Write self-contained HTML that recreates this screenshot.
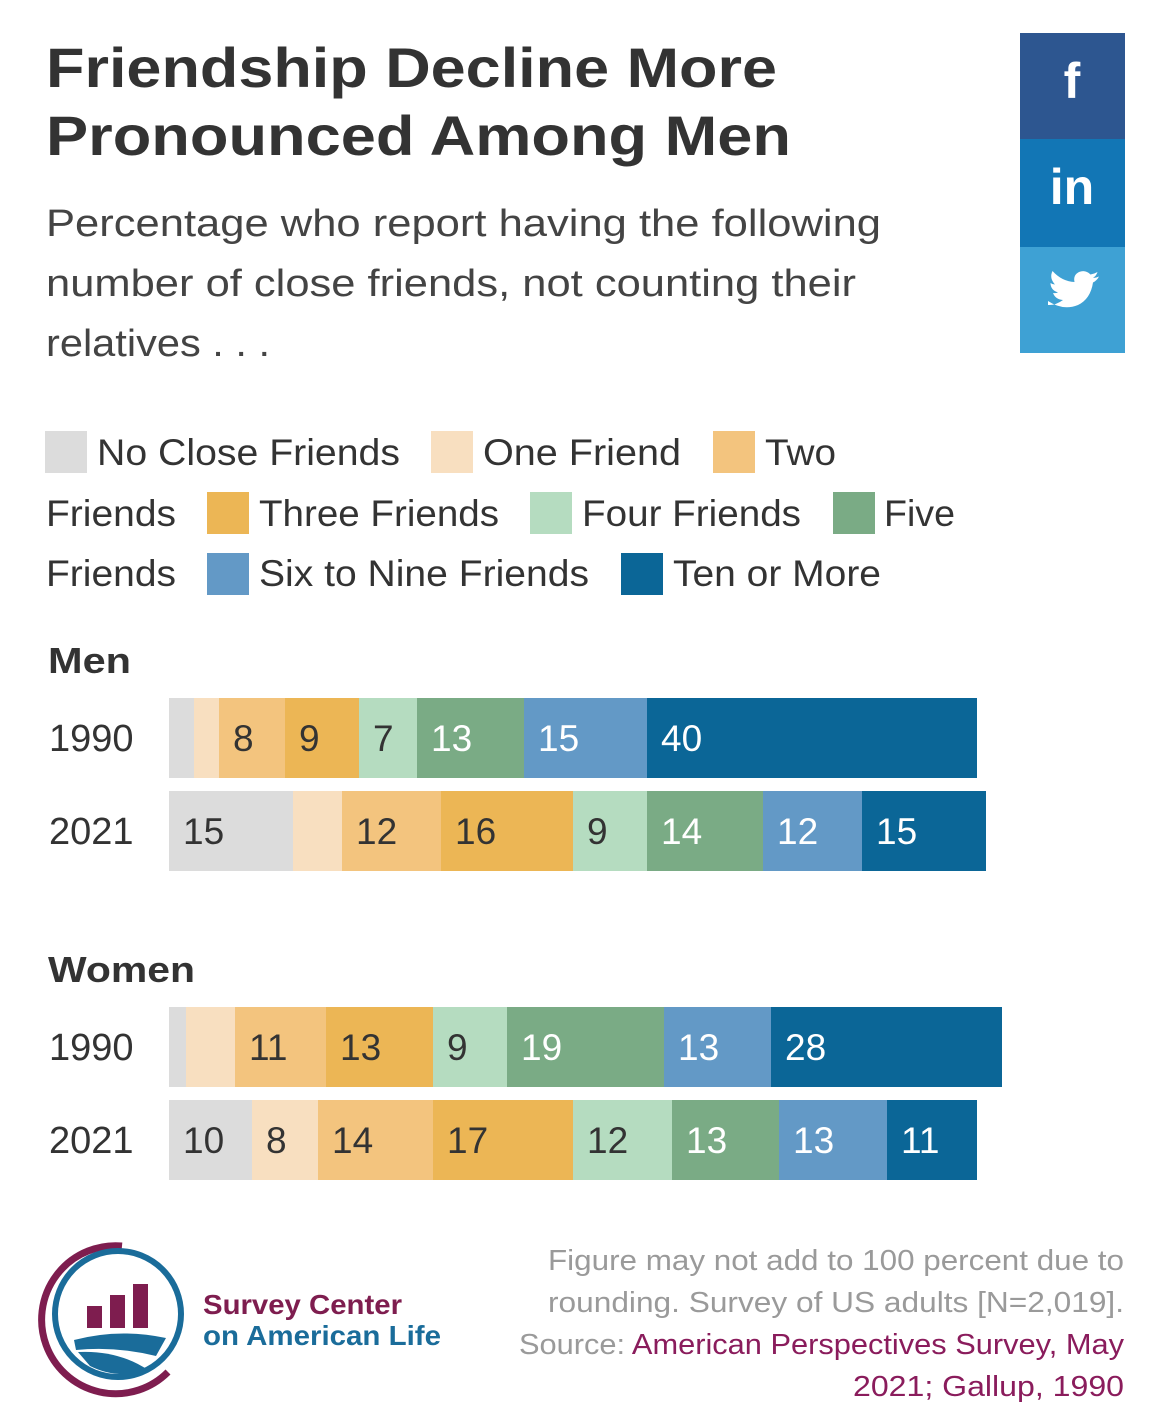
<!DOCTYPE html>
<html><head><meta charset="utf-8"><style>body{margin:0;background:#fff}svg{display:block}</style></head><body>
<svg width="1170" height="1422" xmlns="http://www.w3.org/2000/svg" font-family="Liberation Sans, sans-serif">
<rect width="1170" height="1422" fill="#fff"/>
<g fill="#333" font-weight="bold" font-size="56" lengthAdjust="spacingAndGlyphs">
<text x="46" y="87" textLength="731" lengthAdjust="spacingAndGlyphs">Friendship Decline More</text>
<text x="46" y="155" textLength="745" lengthAdjust="spacingAndGlyphs">Pronounced Among Men</text>
</g>
<g fill="#444" font-size="38">
<text x="46" y="236" textLength="835" lengthAdjust="spacingAndGlyphs">Percentage who report having the following</text>
<text x="46" y="296" textLength="810" lengthAdjust="spacingAndGlyphs">number of close friends, not counting their</text>
<text x="46" y="356" textLength="224" lengthAdjust="spacingAndGlyphs">relatives . . .</text>
</g>
<rect x="1020" y="33" width="105" height="106" fill="#2d5690"/>
<rect x="1020" y="139" width="105" height="108" fill="#1276b5"/>
<rect x="1020" y="247" width="105" height="106" fill="#3ea1d4"/>
<text x="1072" y="98" fill="#fff" font-size="50" font-weight="bold" text-anchor="middle">f</text>
<text x="1072" y="204" fill="#fff" font-size="50" font-weight="bold" text-anchor="middle">in</text>
<g transform="translate(1048,276) scale(0.5)">
<path d="M0 50 q30 20 60 8 q25 -12 30 -45 q8 -4 12 -12 q-6 3 -12 3 q7 -5 9 -12 q-7 4 -14 5 q-10 -10 -23 -5 q-12 6 -9 20 q-25 -1 -44 -22 q-7 14 5 27 q-5 0 -9 -3 q0 14 15 19 q-5 2 -10 1 q5 13 20 14 q-15 11 -30 10z" fill="#fff"/>
</g>
<g font-size="37" fill="#333">
<rect x="45" y="431" width="42" height="42" fill="#dcdcdc"/><text x="97" y="465" textLength="303" lengthAdjust="spacingAndGlyphs">No Close Friends</text>
<rect x="431" y="431" width="42" height="42" fill="#f8dfc0"/><text x="483" y="465" textLength="198" lengthAdjust="spacingAndGlyphs">One Friend</text>
<rect x="713" y="431" width="42" height="42" fill="#f3c47e"/><text x="765" y="465" textLength="71" lengthAdjust="spacingAndGlyphs">Two</text>
<text x="46" y="526" textLength="130" lengthAdjust="spacingAndGlyphs">Friends</text>
<rect x="207" y="492" width="42" height="42" fill="#ecb655"/><text x="259" y="526" textLength="240" lengthAdjust="spacingAndGlyphs">Three Friends</text>
<rect x="530" y="492" width="42" height="42" fill="#b5dcc0"/><text x="582" y="526" textLength="219" lengthAdjust="spacingAndGlyphs">Four Friends</text>
<rect x="833" y="492" width="42" height="42" fill="#7aab85"/><text x="884" y="526" textLength="71" lengthAdjust="spacingAndGlyphs">Five</text>
<text x="46" y="586" textLength="130" lengthAdjust="spacingAndGlyphs">Friends</text>
<rect x="207" y="553" width="42" height="42" fill="#6399c6"/><text x="259" y="586" textLength="330" lengthAdjust="spacingAndGlyphs">Six to Nine Friends</text>
<rect x="621" y="553" width="42" height="42" fill="#0b6697"/><text x="673" y="586" textLength="208" lengthAdjust="spacingAndGlyphs">Ten or More</text>
</g>
<g font-size="36" font-weight="bold" fill="#333">
<text x="48" y="673" textLength="83" lengthAdjust="spacingAndGlyphs">Men</text><text x="48" y="982" textLength="147" lengthAdjust="spacingAndGlyphs">Women</text>
</g>
<g font-size="38" fill="#333">
<text x="49" y="751">1990</text><text x="49" y="844">2021</text>
<text x="49" y="1060">1990</text><text x="49" y="1153">2021</text>
</g>
<g>
<rect x="169" y="698" width="25" height="80" fill="#dcdcdc"/><rect x="194" y="698" width="25" height="80" fill="#f8dfc0"/><rect x="219" y="698" width="66" height="80" fill="#f3c47e"/><rect x="285" y="698" width="74" height="80" fill="#ecb655"/><rect x="359" y="698" width="58" height="80" fill="#b5dcc0"/><rect x="417" y="698" width="107" height="80" fill="#7aab85"/><rect x="524" y="698" width="123" height="80" fill="#6399c6"/><rect x="647" y="698" width="330" height="80" fill="#0b6697"/>
<rect x="169" y="791" width="124" height="80" fill="#dcdcdc"/><rect x="293" y="791" width="49" height="80" fill="#f8dfc0"/><rect x="342" y="791" width="99" height="80" fill="#f3c47e"/><rect x="441" y="791" width="132" height="80" fill="#ecb655"/><rect x="573" y="791" width="74" height="80" fill="#b5dcc0"/><rect x="647" y="791" width="116" height="80" fill="#7aab85"/><rect x="763" y="791" width="99" height="80" fill="#6399c6"/><rect x="862" y="791" width="124" height="80" fill="#0b6697"/>
<rect x="169" y="1007" width="17" height="80" fill="#dcdcdc"/><rect x="186" y="1007" width="49" height="80" fill="#f8dfc0"/><rect x="235" y="1007" width="91" height="80" fill="#f3c47e"/><rect x="326" y="1007" width="107" height="80" fill="#ecb655"/><rect x="433" y="1007" width="74" height="80" fill="#b5dcc0"/><rect x="507" y="1007" width="157" height="80" fill="#7aab85"/><rect x="664" y="1007" width="107" height="80" fill="#6399c6"/><rect x="771" y="1007" width="231" height="80" fill="#0b6697"/>
<rect x="169" y="1100" width="83" height="80" fill="#dcdcdc"/><rect x="252" y="1100" width="66" height="80" fill="#f8dfc0"/><rect x="318" y="1100" width="115" height="80" fill="#f3c47e"/><rect x="433" y="1100" width="140" height="80" fill="#ecb655"/><rect x="573" y="1100" width="99" height="80" fill="#b5dcc0"/><rect x="672" y="1100" width="107" height="80" fill="#7aab85"/><rect x="779" y="1100" width="108" height="80" fill="#6399c6"/><rect x="887" y="1100" width="90" height="80" fill="#0b6697"/>
</g>
<g font-size="37" fill="#333">
<text x="233" y="751">8</text><text x="299" y="751">9</text><text x="373" y="751">7</text>
<text x="183" y="844">15</text><text x="356" y="844">12</text><text x="455" y="844">16</text><text x="587" y="844">9</text>
<text x="249" y="1060">11</text><text x="340" y="1060">13</text><text x="447" y="1060">9</text>
<text x="183" y="1153">10</text><text x="266" y="1153">8</text><text x="332" y="1153">14</text><text x="447" y="1153">17</text><text x="587" y="1153">12</text>
</g>
<g font-size="37" fill="#fff">
<text x="431" y="751">13</text><text x="538" y="751">15</text><text x="661" y="751">40</text>
<text x="661" y="844">14</text><text x="777" y="844">12</text><text x="876" y="844">15</text>
<text x="521" y="1060">19</text><text x="678" y="1060">13</text><text x="785" y="1060">28</text>
<text x="686" y="1153">13</text><text x="793" y="1153">13</text><text x="901" y="1153">11</text>
</g>
<g>
<path d="M122 1246 A74 74 0 1 0 168 1372" fill="none" stroke="#7e1d4f" stroke-width="7"/>
<circle cx="118" cy="1314" r="63" fill="none" stroke="#1a6c9a" stroke-width="6"/>
<rect x="87" y="1306" width="15" height="22" fill="#7e1d4f"/><rect x="110" y="1295" width="15" height="33" fill="#7e1d4f"/><rect x="133" y="1284" width="15" height="44" fill="#7e1d4f"/>
<path d="M74 1340 q45 -12 92 -2 l-10 18 q-40 -10 -80 -6z" fill="#1a6c9a"/>
<path d="M78 1352 q40 -2 70 18 q-30 10 -58 -4z" fill="#1a6c9a"/>
<text x="203" y="1314" font-size="28" font-weight="bold" fill="#7e1d4f" textLength="199" lengthAdjust="spacingAndGlyphs">Survey Center</text>
<text x="203" y="1345" font-size="28" font-weight="bold" fill="#1a6c9a" textLength="238" lengthAdjust="spacingAndGlyphs">on American Life</text>
</g>
<g font-size="29" fill="#9a9a9a">
<text x="548" y="1270" textLength="576" lengthAdjust="spacingAndGlyphs">Figure may not add to 100 percent due to</text>
<text x="548" y="1312" textLength="576" lengthAdjust="spacingAndGlyphs">rounding. Survey of US adults [N=2,019].</text>
<text x="519" y="1354" textLength="605" lengthAdjust="spacingAndGlyphs">Source: <tspan fill="#8a1c5c">American Perspectives Survey, May</tspan></text>
<text x="853" y="1396" fill="#8a1c5c" textLength="271" lengthAdjust="spacingAndGlyphs">2021; Gallup, 1990</text>
</g>
</svg>
</body></html>
